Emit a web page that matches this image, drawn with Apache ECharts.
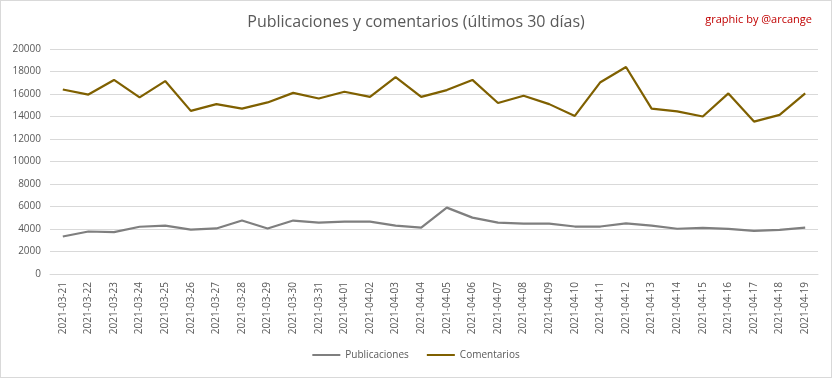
<!DOCTYPE html>
<html><head><meta charset="utf-8">
<script src="https://cdn.jsdelivr.net/npm/echarts@6/dist/echarts.min.js"></script>
<style>html,body{margin:0;padding:0;background:#fff}#c{width:830px;height:376px;border:1px solid #d9d9d9}</style>
</head><body><div id="c"></div>
<script>
const categories = ["2021-03-21","2021-03-22","2021-03-23","2021-03-24","2021-03-25","2021-03-26","2021-03-27","2021-03-28","2021-03-29","2021-03-30","2021-03-31","2021-04-01","2021-04-02","2021-04-03","2021-04-04","2021-04-05","2021-04-06","2021-04-07","2021-04-08","2021-04-09","2021-04-10","2021-04-11","2021-04-12","2021-04-13","2021-04-14","2021-04-15","2021-04-16","2021-04-17","2021-04-18","2021-04-19"];
const publicaciones = [3330,3780,3720,4200,4300,3950,4050,4750,4050,4750,4560,4650,4650,4300,4130,5900,5010,4560,4480,4480,4220,4220,4500,4300,4020,4100,4010,3830,3920,4130];
const comentarios = [16400,15950,17250,15700,17150,14500,15100,14700,15250,16100,15600,16200,15750,17500,15750,16350,17250,15200,15850,15100,14050,17050,18400,14700,14450,14000,16050,13550,14150,16050];
const yTicks = {min:0, max:20000, interval:2000};

const chart = echarts.init(document.getElementById('c'));
const font = '"Open Sans", "Liberation Sans", sans-serif';
chart.setOption({
  animation:false,
  title:[{text:'Publicaciones y comentarios (últimos 30 días)', left:'center', top:8,
    textStyle:{fontFamily:font, fontSize:16, fontWeight:'normal', color:'#595959'}},
    {text:'graphic by @arcange', right:14, top:8, textStyle:{fontFamily:font, fontSize:11, fontWeight:'normal', color:'#c00000'}}],
  legend:{bottom:12, left:'center', itemWidth:28, itemHeight:2, icon:'rect', itemGap:18,
    textStyle:{fontFamily:font, fontSize:10, color:'#595959'}},
  grid:{left:49, right:13, top:48, bottom:103},
  xAxis:{type:'category', data:categories, boundaryGap:true,
    axisLine:{lineStyle:{color:'#d9d9d9'}}, axisTick:{show:false},
    axisLabel:{rotate:90, fontFamily:font, fontSize:10, color:'#595959', margin:8, interval:0}},
  yAxis:{type:'value', min:yTicks.min, max:yTicks.max, interval:yTicks.interval,
    axisLine:{show:false}, axisTick:{show:false},
    splitLine:{lineStyle:{color:'#d9d9d9'}},
    axisLabel:{fontFamily:font, fontSize:10, color:'#595959', margin:9, formatter: v => String(v)}},
  series:[
    {name:'Publicaciones', type:'line', data:publicaciones, symbol:'none', lineStyle:{color:'#7f7f7f', width:2.2}, itemStyle:{color:'#7f7f7f'}},
    {name:'Comentarios', type:'line', data:comentarios, symbol:'none', lineStyle:{color:'#7f6000', width:2.2}, itemStyle:{color:'#7f6000'}}
  ]
});
</script></body></html>
